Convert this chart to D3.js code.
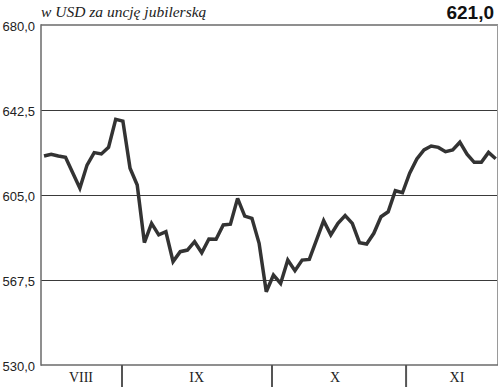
<!DOCTYPE html>
<html>
<head>
<meta charset="utf-8">
<script src="https://cdn.jsdelivr.net/npm/d3@7/dist/d3.min.js"></script>
<style>
  html, body { margin: 0; padding: 0; background: #fff; }
  svg { display: block; }
</style>
</head>
<body>
<div id="chart"></div>
<script>
// ---- data ----
const prices = [
  622.2, 623.0, 622.2, 621.6, 614.8, 608.0, 618.2, 623.7, 623.1, 626.0,
  638.4, 637.6, 616.8, 609.4, 584.0, 592.5, 587.4, 588.8, 575.6, 580.0,
  580.7, 584.4, 579.5, 585.6, 585.5, 591.8, 592.1, 603.5, 595.7, 594.7,
  583.7, 562.3, 569.7, 566.0, 576.3, 571.6, 576.3, 576.6, 585.1, 593.7,
  587.4, 592.5, 595.9, 592.5, 584.0, 583.4, 588.1, 595.4, 597.6, 606.9,
  606.0, 614.6, 620.9, 624.9, 626.6, 626.0, 624.1, 624.9, 628.3, 623.0,
  619.4, 619.4, 623.8, 621.0
];
const yTicks = [530, 567.5, 605, 642.5, 680];
const monthLabels = ["VIII", "IX", "X", "XI"];
const monthLabelPos = [5.16, 21.3, 40.6, 57.6];     // in trading-day index units
const monthBoundaries = [10.88, 31.8, 50.5];        // in trading-day index units
const titleText = "w USD za uncję jubilerską";
const lastValueText = "621,0";

// ---- layout ----
const W = 500, H = 387;
const pLeft = 41, pRight = 498, pTop = 25, pBottom = 365;

const svg = d3.select("#chart").append("svg")
  .attr("width", W).attr("height", H);

const x = d3.scaleLinear().domain([-0.42, 63.32]).range([pLeft, pRight]);
const y = d3.scaleLinear().domain([530, 680]).range([pBottom, pTop]);

const fmt = v => d3.format(".1f")(v).replace(".", ",");

// grid lines (interior)
svg.append("g").selectAll("line")
  .data(yTicks.filter(t => t !== 530 && t !== 680))
  .join("line")
  .attr("x1", pLeft).attr("x2", pRight)
  .attr("y1", d => y(d) + 0.5).attr("y2", d => y(d) + 0.5)
  .attr("stroke", "#3a3a3a").attr("stroke-width", 1);

// frame: top line, right line, bottom line, left axis
svg.append("line").attr("x1", pLeft).attr("x2", pRight)
  .attr("y1", y(680)).attr("y2", y(680))
  .attr("stroke", "#6a6a6a").attr("stroke-width", 1.5);
svg.append("line").attr("x1", pRight - 0.5).attr("x2", pRight - 0.5)
  .attr("y1", y(680)).attr("y2", y(530))
  .attr("stroke", "#9a9a9a").attr("stroke-width", 1);
svg.append("line").attr("x1", pLeft).attr("x2", pRight)
  .attr("y1", y(530)).attr("y2", y(530))
  .attr("stroke", "#6a6a6a").attr("stroke-width", 1.5);
svg.append("line").attr("x1", pLeft).attr("x2", pLeft)
  .attr("y1", y(680) - 0.75).attr("y2", y(530) + 0.75)
  .attr("stroke", "#6a6a6a").attr("stroke-width", 1.5);

// y tick labels
svg.append("g").selectAll("text")
  .data(yTicks)
  .join("text")
  .attr("x", 35)
  .attr("y", d => y(d) + 1.5)
  .attr("dy", "0.36em")
  .attr("text-anchor", "end")
  .attr("font-family", "'Liberation Sans', Arial, sans-serif")
  .attr("font-size", 13)
  .attr("fill", "#222")
  .text(d => fmt(d));

// month separators
svg.append("g").selectAll("line")
  .data(monthBoundaries)
  .join("line")
  .attr("x1", d => x(d)).attr("x2", d => x(d))
  .attr("y1", y(530)).attr("y2", H)
  .attr("stroke", "#555").attr("stroke-width", 2);

// month labels
svg.append("g").selectAll("text")
  .data(monthLabels)
  .join("text")
  .attr("x", (d, i) => x(monthLabelPos[i]))
  .attr("y", 382)
  .attr("text-anchor", "middle")
  .attr("font-family", "'Liberation Serif', 'Times New Roman', serif")
  .attr("font-size", 14)
  .attr("fill", "#222")
  .text(d => d);

// price line
const line = d3.line()
  .x((d, i) => x(i))
  .y(d => y(d));
svg.append("path")
  .datum(prices)
  .attr("d", line)
  .attr("fill", "none")
  .attr("stroke", "#333")
  .attr("stroke-width", 3.5)
  .attr("stroke-linejoin", "miter")
  .attr("stroke-miterlimit", 3);

// title
svg.append("text")
  .attr("x", 41).attr("y", 17)
  .attr("font-family", "'Liberation Serif', 'Times New Roman', serif")
  .attr("font-style", "italic")
  .attr("font-size", 15.5)
  .attr("fill", "#222")
  .text(titleText);

// last value
svg.append("text")
  .attr("x", 494).attr("y", 19)
  .attr("text-anchor", "end")
  .attr("font-family", "'Liberation Sans', Arial, sans-serif")
  .attr("font-weight", "bold")
  .attr("font-size", 19)
  .attr("fill", "#111")
  .text(lastValueText);
</script>
</body>
</html>
